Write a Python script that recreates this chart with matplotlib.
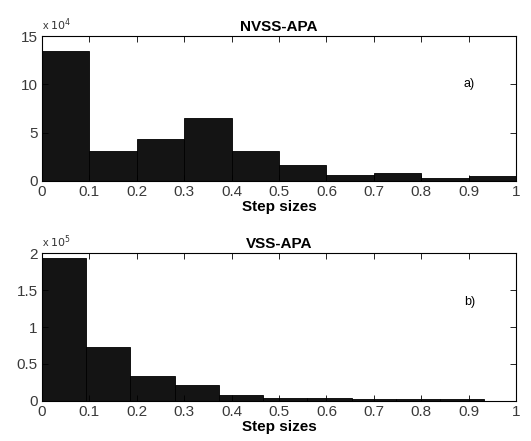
import matplotlib
matplotlib.use("Agg")
import matplotlib.pyplot as plt
import numpy as np

# Histogram counts
nvss_edges = np.linspace(0.0, 1.0, 11)
nvss_counts = [13.5, 3.1, 4.35, 6.55, 3.1, 1.65, 0.62, 0.86, 0.31, 0.52]  # x 10^4

vss_edges = np.linspace(0.0, 0.933, 11)
vss_counts = [1.93, 0.73, 0.34, 0.22, 0.08, 0.04, 0.04, 0.02, 0.02, 0.02]  # x 10^5

titles = ["NVSS-APA", "VSS-APA"]
labels = ["a)", "b)"]
exponents = ["4", "5"]

plt.rcParams['font.family'] = ['Liberation Sans', 'DejaVu Sans']

fig = plt.figure(figsize=(5.31, 4.41), dpi=100)
ax1 = fig.add_axes([0.079, 0.590, 0.893, 0.328])
ax2 = fig.add_axes([0.079, 0.091, 0.893, 0.335])


def histplot(ax, edges, counts, ymax, yticks, title, label, expo):
    widths = np.diff(edges)
    ax.bar(edges[:-1], counts, width=widths, align="edge",
           color="#141414", edgecolor="black", linewidth=0.6)
    ax.set_xlim(0, 1)
    ax.set_ylim(0, ymax)
    ax.set_xticks(np.arange(0, 1.01, 0.1))
    ax.set_xticklabels(["0", "0.1", "0.2", "0.3", "0.4", "0.5", "0.6",
                        "0.7", "0.8", "0.9", "1"])
    ax.set_yticks(yticks)
    ax.set_yticklabels(["%g" % t for t in yticks])
    ax.tick_params(direction="in", top=True, right=True, length=4,
                   labelsize=11, labelcolor="#3a3a3a", width=0.6, pad=3)
    for s in ax.spines.values():
        s.set_linewidth(0.8)
    ax.set_title(title, fontsize=11, fontweight="bold", pad=4)
    ax.set_xlabel("Step sizes", fontsize=11, fontweight="bold", labelpad=1)
    ax.text(0.89, ymax * 0.67, label, fontsize=9, ha="left", va="center")
    ax.text(0.0, 1.02, r"x $10^{%s}$" % expo, transform=ax.transAxes,
            fontsize=8, ha="left", va="bottom", color="#333333")


histplot(ax1, nvss_edges, nvss_counts, 15, [0, 5, 10, 15],
         titles[0], labels[0], exponents[0])
histplot(ax2, vss_edges, vss_counts, 2, [0, 0.5, 1, 1.5, 2],
         titles[1], labels[1], exponents[1])

fig.savefig("out.png", dpi=100)
